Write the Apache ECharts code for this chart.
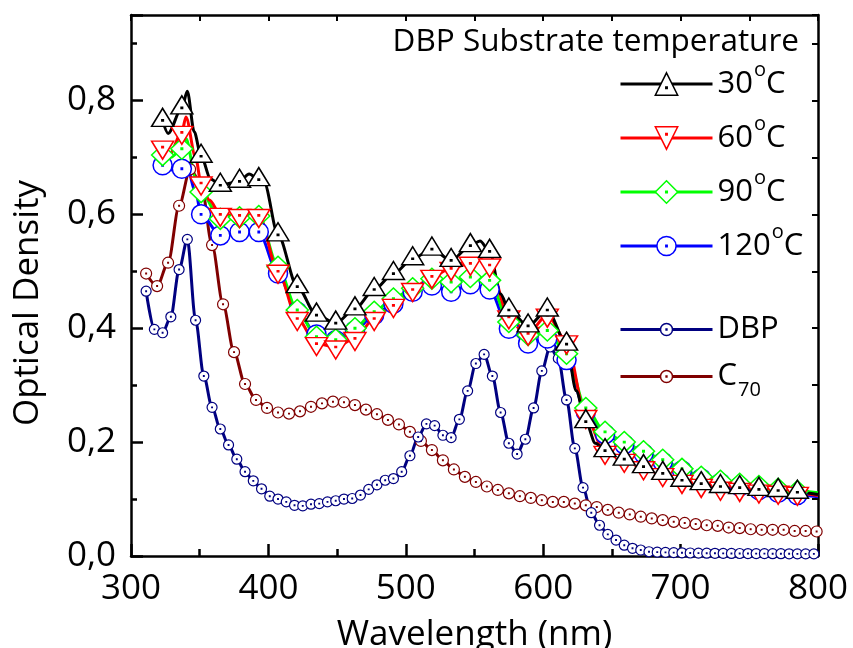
<!DOCTYPE html>
<html>
<head>
<meta charset="utf-8">
<script src="https://cdn.jsdelivr.net/npm/echarts@6/dist/echarts.min.js"></script>
<style>
  html, body { margin: 0; padding: 0; background: #fff; }
  #chart { width: 853px; height: 648px; }
</style>
</head>
<body>
<div id="chart"></div>
<script>
// Marker wavelengths (nm) shared by the four substrate-temperature spectra
const wlTemp = [323, 337, 351, 365, 379, 393, 407, 421, 435, 449, 463, 477, 491, 505, 519, 533, 547,
  561, 575, 589, 603, 617, 631, 645, 659, 673, 687, 701, 715, 729, 743, 757, 771, 785];

// Optical density at the marker wavelengths
const od30 = [0.765, 0.787, 0.702, 0.651, 0.658, 0.661, 0.564, 0.473, 0.423, 0.409, 0.434, 0.468, 0.496,
  0.522, 0.539, 0.519, 0.545, 0.535, 0.432, 0.404, 0.432, 0.372, 0.236, 0.185, 0.170, 0.157, 0.145,
  0.133, 0.127, 0.122, 0.120, 0.117, 0.115, 0.112];
const od60 = [0.718, 0.744, 0.655, 0.600, 0.598, 0.598, 0.500, 0.417, 0.373, 0.367, 0.382, 0.417, 0.440,
  0.468, 0.491, 0.505, 0.514, 0.511, 0.420, 0.391, 0.423, 0.376, 0.245, 0.182, 0.168, 0.155, 0.143,
  0.131, 0.124, 0.119, 0.117, 0.114, 0.112, 0.110];
const od90 = [0.704, 0.715, 0.639, 0.592, 0.595, 0.597, 0.508, 0.432, 0.385, 0.380, 0.400, 0.429, 0.452,
  0.470, 0.487, 0.481, 0.490, 0.484, 0.411, 0.388, 0.396, 0.355, 0.260, 0.218, 0.200, 0.184, 0.169,
  0.153, 0.139, 0.132, 0.127, 0.123, 0.118, 0.114];
const od120 = [0.686, 0.680, 0.600, 0.563, 0.569, 0.569, 0.496, 0.429, 0.389, 0.379, 0.396, 0.423, 0.443,
  0.464, 0.475, 0.464, 0.477, 0.468, 0.399, 0.373, 0.382, 0.344, 0.253, 0.214, 0.196, 0.180, 0.165,
  0.150, 0.136, 0.128, 0.122, 0.116, 0.111, 0.107];

// Additional curve points between markers [nm, OD]
const line30 = [[327, 0.742], [341, 0.816], [346, 0.745], [358, 0.662], [386, 0.671], [397, 0.655],
  [554, 0.553], [569, 0.460], [624, 0.290], [638, 0.198], [800, 0.108]];
const line60 = [[328, 0.705], [340, 0.771], [347, 0.700], [357, 0.625], [554, 0.522], [800, 0.106]];
const line90 = [[329, 0.700], [340, 0.733], [347, 0.665], [800, 0.111]];
const line120 = [[329, 0.678], [340, 0.690], [347, 0.640], [800, 0.104]];

// DBP film
const wlDBP = [311, 317, 323, 329, 335, 341, 347, 353, 359, 365, 371, 377, 383, 389, 395, 401, 407, 413,
  419, 425, 431, 437, 443, 449, 455, 461, 467, 473, 479, 485, 491, 497, 503, 509, 515, 521, 527, 533,
  539, 545, 551, 557, 563, 569, 575, 581, 587, 593, 599, 605, 611, 617, 623, 629, 635, 641, 647, 653,
  659, 665, 671, 677, 683, 689, 695, 701, 707, 713, 719, 725, 731, 737, 743, 749, 755, 761, 767, 773,
  779, 785, 791, 797];
const odDBP = [0.465, 0.398, 0.392, 0.420, 0.503, 0.556, 0.414, 0.316, 0.261, 0.223,
  0.195, 0.170, 0.148, 0.132, 0.118, 0.105, 0.100, 0.095, 0.089, 0.088,
  0.091, 0.092, 0.095, 0.097, 0.100, 0.101, 0.107, 0.117, 0.125, 0.133,
  0.136, 0.148, 0.176, 0.209, 0.232, 0.229, 0.212, 0.208, 0.240, 0.290,
  0.338, 0.354, 0.316, 0.252, 0.198, 0.179, 0.205, 0.260, 0.325, 0.367,
  0.347, 0.274, 0.189, 0.120, 0.076, 0.054, 0.038, 0.028, 0.019, 0.0135,
  0.0105, 0.0075, 0.0068, 0.0063, 0.0059, 0.0056, 0.0053, 0.0051, 0.0049, 0.0047,
  0.0046, 0.0045, 0.0044, 0.0043, 0.0042, 0.0041, 0.0040, 0.0040, 0.0039, 0.0038,
  0.0038, 0.0037];

// C70 film
const wlC70 = [311, 319, 327, 335, 343, 351, 359, 367, 375, 383, 391, 399, 407, 415, 423, 431, 439, 447,
  455, 463, 471, 479, 487, 495, 503, 511, 519, 527, 535, 543, 551, 559, 567, 575, 583, 591, 599, 607,
  615, 623, 631, 639, 647, 655, 663, 671, 679, 687, 695, 703, 711, 719, 727, 735, 743, 751, 759, 767,
  775, 783, 791, 799];
const odC70 = [0.496, 0.474, 0.515, 0.615, 0.679, 0.655, 0.546, 0.442, 0.358, 0.302,
  0.274, 0.260, 0.252, 0.250, 0.254, 0.262, 0.268, 0.271, 0.270, 0.265,
  0.257, 0.249, 0.239, 0.231, 0.218, 0.202, 0.186, 0.168, 0.152, 0.139,
  0.130, 0.122, 0.116, 0.110, 0.105, 0.102, 0.098, 0.095, 0.095, 0.092,
  0.089, 0.086, 0.081, 0.076, 0.073, 0.069, 0.066, 0.063, 0.060, 0.058,
  0.056, 0.054, 0.053, 0.050, 0.049, 0.047, 0.046, 0.046, 0.046, 0.044,
  0.044, 0.043];

const xTicks = { min: 300, max: 800, step: 100 };
const yTicks = { min: 0, max: 0.95, step: 0.2 };

const FONT = '"Open Sans", "Noto Sans", sans-serif';

// Open marker outlines with a small centre dot
const DOT = (cx, cy) => ` M${cx - 0.7},${cy - 0.7} L${cx + 0.7},${cy - 0.7} L${cx + 0.7},${cy + 0.7} L${cx - 0.7},${cy + 0.7} Z`;
const SYM = {
  up: 'path://M0,0 L11,19 L-11,19 Z' + DOT(0, 12.67),
  down: 'path://M-11,0 L11,0 L0,19 Z' + DOT(0, 6.33),
  diamond: 'path://M0,-10 L10,0 L0,10 L-10,0 Z' + DOT(0, 0),
  circle: 'path://M-10,0 A10,10 0 1,0 10,0 A10,10 0 1,0 -10,0 Z' + DOT(0, 0)
};

function tempSeries(name, od, extra, color, symbol, size, offset) {
  const pts = wlTemp.map((x, i) => ({ value: [x, od[i]] }))
    .concat(extra.map(p => ({ value: p, symbol: 'none' })));
  pts.sort((a, b) => a.value[0] - b.value[0]);
  return {
    type: 'line', name, data: pts,
    symbol, symbolSize: size, symbolOffset: [0, offset],
    smooth: 0.3, smoothMonotone: 'x',
    lineStyle: { color, width: 3 },
    itemStyle: { color: '#fff', borderColor: color, borderWidth: 1.5 },
    emphasis: { disabled: true }, silent: true
  };
}

function filmSeries(name, wl, od, color, size) {
  return {
    type: 'line', name,
    data: wl.map((x, i) => [x, od[i]]),
    symbol: SYM.circle, symbolSize: size,
    smooth: 0.3, smoothMonotone: 'x',
    lineStyle: { color, width: 3 },
    itemStyle: { color: '#fff', borderColor: color, borderWidth: 1.2 },
    emphasis: { disabled: true }, silent: true
  };
}

// Drawn bottom to top
const series = [
  filmSeries('C70', wlC70, odC70, '#800000', 11),
  filmSeries('DBP', wlDBP, odDBP, '#000080', 10),
  tempSeries('120°C', od120, line120, '#0000ff', SYM.circle, 19, 0),
  tempSeries('90°C', od90, line90, '#00ff00', SYM.diamond, [22, 21], 0),
  tempSeries('60°C', od60, line60, '#ff0000', SYM.down, [22, 18], 3),
  tempSeries('30°C', od30, line30, '#000000', SYM.up, [22, 18], -3)
];

// Legend labels: degree mark as raised "o", subscript 70 on C
const rich = {
  n: { fontFamily: FONT, fontSize: 31, color: '#000', lineHeight: 48, verticalAlign: 'middle' },
  s: { fontFamily: FONT, fontSize: 20, color: '#000', lineHeight: 12, verticalAlign: 'top', padding: [0, 0, 0, 1] },
  b: { fontFamily: FONT, fontSize: 20, color: '#000', lineHeight: 16, verticalAlign: 'bottom', padding: [0, 0, 0, 1] }
};
function legendText(name) {
  if (name.endsWith('°C')) return '{n|' + name.slice(0, -2) + '}{s|o}{n|C}';
  if (name === 'C70') return '{n|C}{b|70}';
  return '{n|' + name + '}';
}

// One legend per entry so that each row sits at its own height
const legendRows = [
  { name: '30°C', y: 84, color: '#000000', h: 28 },
  { name: '60°C', y: 138, color: '#ff0000', h: 28 },
  { name: '90°C', y: 192, color: '#00ff00', h: 28 },
  { name: '120°C', y: 246, color: '#0000ff', h: 24 },
  { name: 'DBP', y: 338, color: '#000080', h: 15 },
  { name: 'C70', y: 385, color: '#800000', h: 15 }
];
const legend = legendRows.map(r => ({
  data: [r.name], left: 619, top: r.y - 24, orient: 'vertical', padding: 0,
  itemWidth: 92, itemHeight: r.h, itemGap: 0, selectedMode: false,
  formatter: legendText,
  textStyle: { rich, fontFamily: FONT, fontSize: 31, color: '#000' },
  itemStyle: { color: '#fff', borderColor: r.color, borderWidth: 1.5 },
  lineStyle: { color: r.color, width: 3 }
}));

const axisLine = { show: true, onZero: false, lineStyle: { color: '#000', width: 2.5 } };
const fmtY = v => {
  const k = Math.round(v / yTicks.step);
  if (Math.abs(v - k * yTicks.step) > 1e-6) return '';
  return v.toFixed(1).replace('.', ',');
};

const option = {
  animation: false,
  backgroundColor: '#fff',
  grid: { left: 131, right: 35, top: 15, bottom: 92, containLabel: false, outerBoundsMode: 'none' },
  legend,
  xAxis: [
    {
      type: 'value', position: 'bottom', min: xTicks.min, max: xTicks.max, interval: xTicks.step,
      axisLine,
      axisTick: { show: true, inside: true, length: 12, lineStyle: { color: '#000', width: 2.5 } },
      minorTick: { show: true, splitNumber: 2, length: 7, lineStyle: { color: '#000', width: 2.5 } },
      splitLine: { show: false }, minorSplitLine: { show: false },
      axisLabel: { fontFamily: FONT, fontSize: 35, color: '#000', margin: 16 },
      name: 'Wavelength (nm)', nameLocation: 'middle', nameGap: 62,
      nameTextStyle: { fontFamily: FONT, fontSize: 35, color: '#000' }
    },
    {
      type: 'value', position: 'top', min: xTicks.min, max: xTicks.max, interval: xTicks.step,
      axisLine,
      axisTick: { show: true, inside: true, length: 6, lineStyle: { color: '#000', width: 2 } },
      minorTick: { show: true, splitNumber: 2, length: 6, lineStyle: { color: '#000', width: 2 } },
      splitLine: { show: false }, axisLabel: { show: false }
    }
  ],
  yAxis: [
    {
      type: 'value', position: 'left', min: yTicks.min, max: yTicks.max, interval: yTicks.step,
      axisLine,
      axisTick: { show: true, inside: true, length: 12, lineStyle: { color: '#000', width: 2.5 } },
      splitLine: { show: false },
      axisLabel: { fontFamily: FONT, fontSize: 35, color: '#000', margin: 15, formatter: fmtY }
    },
    {
      type: 'value', position: 'left', min: yTicks.min, max: yTicks.max, interval: yTicks.step / 2,
      axisLine: { show: false },
      axisTick: { show: true, inside: true, length: 6, lineStyle: { color: '#000', width: 2.5 } },
      splitLine: { show: false }, axisLabel: { show: false }
    },
    {
      type: 'value', position: 'right', min: yTicks.min, max: yTicks.max, interval: yTicks.step / 2,
      axisLine,
      axisTick: { show: true, inside: true, length: 6, lineStyle: { color: '#000', width: 2 } },
      splitLine: { show: false }, axisLabel: { show: false }
    }
  ],
  graphic: [
    {
      type: 'text', x: 28, y: 303, rotation: Math.PI / 2, silent: true,
      style: { text: 'Optical Density', font: '35px ' + FONT, fill: '#000', align: 'center', verticalAlign: 'middle' }
    },
    {
      type: 'text', x: 799, y: 42, silent: true,
      style: { text: 'DBP Substrate temperature', font: '31.5px ' + FONT, fill: '#000', align: 'right', verticalAlign: 'middle' }
    }
  ],
  series
};

const chart = echarts.init(document.getElementById('chart'), null, { renderer: 'canvas' });
chart.setOption(option);
</script>
</body>
</html>
